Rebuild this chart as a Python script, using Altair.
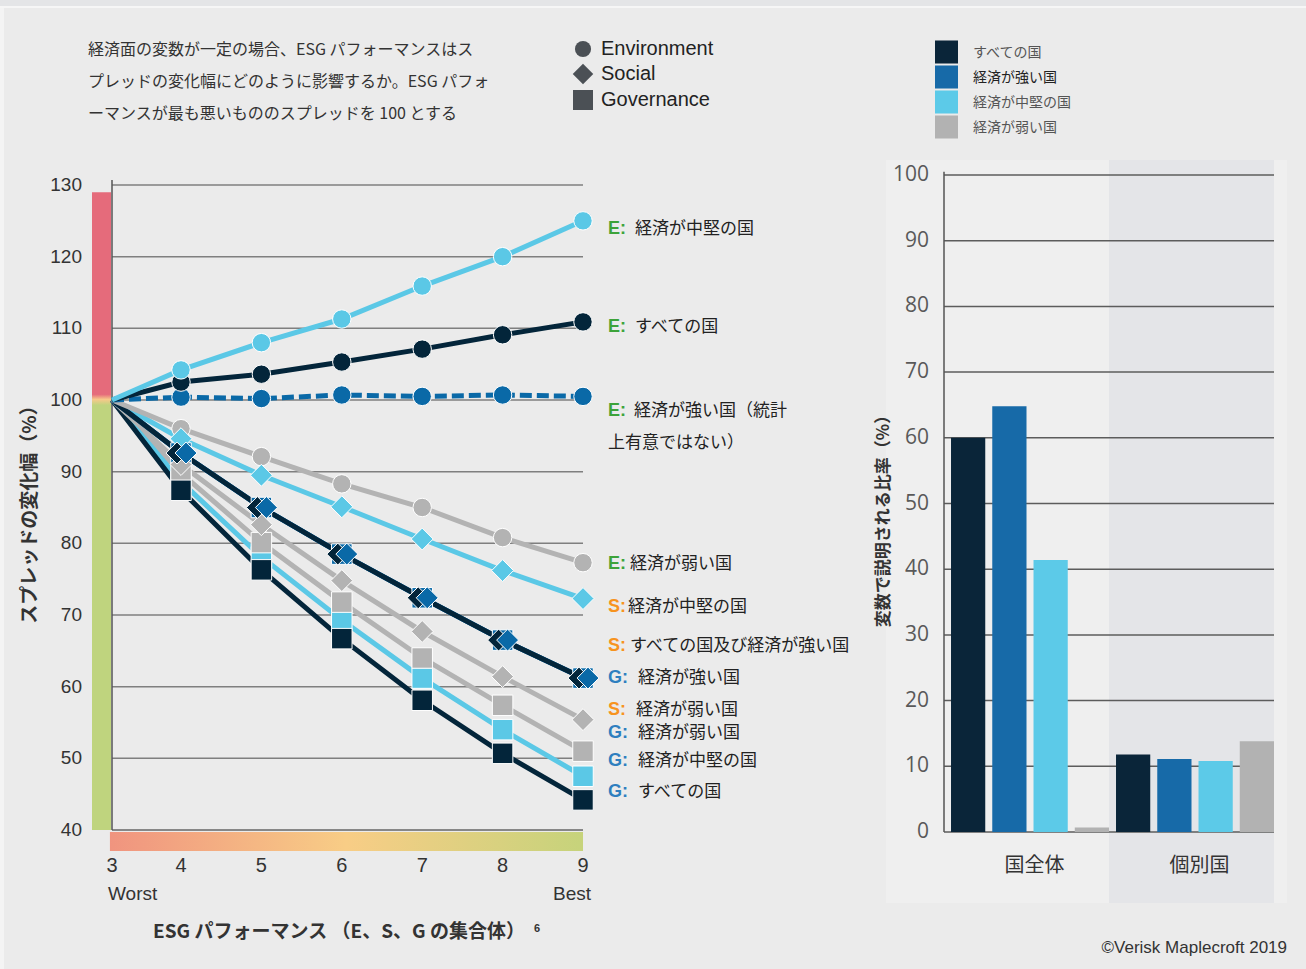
import altair as alt
import pandas as pd

# ---------------- data ----------------
esg_scores = [3, 4, 5, 6, 7, 8, 9]

# spread change (%) – spread of the worst ESG performer (score 3) = 100
env_mid    = [100, 104.2, 108.0, 111.3, 115.9, 120.0, 125.0]
env_all    = [100, 102.5, 103.6, 105.3, 107.1, 109.1, 110.9]
env_strong = [100, 100.4, 100.2, 100.7, 100.5, 100.7, 100.5]
env_weak   = [100, 96.0, 92.1, 88.3, 85.0, 80.8, 77.3]
soc_mid    = [100, 94.6, 89.5, 85.1, 80.6, 76.2, 72.3]
soc_all    = [100, 92.6, 85.0, 78.5, 72.4, 66.5, 61.2]
soc_strong = [100, 92.6, 85.0, 78.5, 72.4, 66.5, 61.2]
soc_weak   = [100, 91.0, 82.6, 74.8, 67.7, 61.4, 55.4]
gov_strong = [100, 92.6, 85.0, 78.5, 72.4, 66.5, 61.2]
gov_weak   = [100, 89.8, 80.1, 71.8, 64.0, 57.4, 51.0]
gov_mid    = [100, 88.6, 78.1, 69.3, 61.2, 54.0, 47.5]
gov_all    = [100, 87.4, 76.3, 66.7, 58.1, 50.7, 44.2]

left_y_ticks = [40, 50, 60, 70, 80, 90, 100, 110, 120, 130]

bar_groups = ["国全体", "個別国"]
bar_series = ["すべての国", "経済が強い国", "経済が中堅の国", "経済が弱い国"]
bar_whole = [60.0, 64.8, 41.4, 0.7]
bar_indiv = [11.8, 11.1, 10.8, 13.8]
right_y_ticks = [0, 10, 20, 30, 40, 50, 60, 70, 80, 90, 100]

header_lines = [
    "経済面の変数が一定の場合、ESG パフォーマンスはス",
    "プレッドの変化幅にどのように影響するか。ESG パフォ",
    "ーマンスが最も悪いもののスプレッドを 100 とする",
]
shape_legend = ["Environment", "Social", "Governance"]
label_prefix = ["E:", "E:", "E:", "", "E:", "S:", "S:", "G:", "S:", "G:", "G:", "G:"]
label_rest = ["経済が中堅の国", "すべての国", "経済が強い国（統計", "上有意ではない）",
              "経済が弱い国", "経済が中堅の国", "すべての国及び経済が強い国", "経済が強い国",
              "経済が弱い国", "経済が弱い国", "経済が中堅の国", "すべての国"]
left_y_title = "スプレッドの変化幅（%）"
left_x_title = "ESG パフォーマンス （E、S、G の集合体）"
right_y_title = "変数で説明される比率（%）"

# ---------------- styles / layout ----------------
CJK = "Noto Sans CJK JP"
LAT = "Liberation Sans"
NAVY, BLUE, LIGHT, GREY = "#03253a", "#0a69a7", "#5bc8e6", "#b3b3b3"
BAR_COLORS = ["#0a2539", "#176aa8", "#5ccae8", "#b2b2b2"]
PREFIX_COLOR = {"E:": "#3ca33a", "S:": "#f7931e", "G:": "#2e7fbf", "": "#222222"}
SYM_SIZE = {"circle": 340, "square": 420, "diamond": 480}

series_styles = {
    "gov_strong": (gov_strong, BLUE, "square", False, 0),
    "gov_all": (gov_all, NAVY, "square", False, 0),
    "gov_mid": (gov_mid, LIGHT, "square", False, 0),
    "gov_weak": (gov_weak, GREY, "square", False, 0),
    "soc_weak": (soc_weak, GREY, "diamond", False, 0),
    "soc_mid": (soc_mid, LIGHT, "diamond", False, 0),
    "soc_strong": (soc_strong, BLUE, "diamond", False, 5),
    "soc_all": (soc_all, NAVY, "diamond", False, -4),
    "env_weak": (env_weak, GREY, "circle", False, 0),
    "env_strong": (env_strong, BLUE, "circle", True, 0),
    "env_all": (env_all, NAVY, "circle", False, 0),
    "env_mid": (env_mid, LIGHT, "circle", False, 0),
}
line_order = ["gov_strong", "gov_weak", "gov_mid", "gov_all", "soc_weak", "soc_mid", "soc_strong",
              "soc_all", "env_weak", "env_strong", "env_all", "env_mid"]
marker_order = ["gov_strong", "gov_mid", "gov_weak", "gov_all", "env_strong", "env_all", "env_mid",
                "env_weak", "soc_weak", "soc_mid", "soc_all", "soc_strong"]

x_left = alt.Scale(domain=[3, 4, 9], range=[112, 181, 583], nice=False, zero=False)
y_left = alt.Scale(domain=[40, 130], range=[830, 185], nice=False, zero=False)
x_right = alt.Scale(domain=bar_groups, range=[944, 1274], paddingInner=0, paddingOuter=0)
y_right = alt.Scale(domain=[0, 100], range=[832, 175], nice=False, zero=False)


def text_layer(text, x, y, size, color="#333333", font=CJK, weight="normal", align="left", angle=0):
    kw = dict(align=align, baseline="middle", font=font, fontSize=size, fontWeight=weight, color=color)
    if angle:
        kw["angle"] = angle
    return alt.Chart(pd.DataFrame({"t": [text]})).mark_text(**kw).encode(
        text="t:N", x=alt.value(x), y=alt.value(y))


def rect_value(x, x2, y, y2, color):
    return alt.Chart(pd.DataFrame({"a": [0]})).mark_rect(color=color).encode(
        x=alt.value(x), x2=alt.value(x2), y=alt.value(y), y2=alt.value(y2))


# ---------------- left panel ----------------
left_layers = []
vgrad = alt.LinearGradient(gradient="linear", x1=0, x2=0, y1=0, y2=1, stops=[
    alt.GradientStop(offset=0, color="#e56b7b"), alt.GradientStop(offset=0.317, color="#e56b7b"),
    alt.GradientStop(offset=0.325, color="#f7c98a"), alt.GradientStop(offset=0.334, color="#bfd47e"),
    alt.GradientStop(offset=1, color="#bfd47e")])
hgrad = alt.LinearGradient(gradient="linear", x1=0, x2=1, y1=0, y2=0, stops=[
    alt.GradientStop(offset=0, color="#f0947f"), alt.GradientStop(offset=0.5, color="#f8cd86"),
    alt.GradientStop(offset=1, color="#c6d37b")])

left_layers.append(
    alt.Chart(pd.DataFrame({"top": [129.0], "bot": [40.0]})).mark_rect(fill=vgrad).encode(
        x=alt.value(92), x2=alt.value(111),
        y=alt.Y("top:Q", scale=y_left, axis=None), y2="bot:Q"))
left_layers.append(
    alt.Chart(pd.DataFrame({"a": [0]})).mark_rect(fill=hgrad).encode(
        x=alt.XDatum(2.97, scale=x_left, axis=None), x2=alt.X2Datum(9),
        y=alt.value(832), y2=alt.value(851)))
# grid lines
left_layers.append(
    alt.Chart(pd.DataFrame({"g": left_y_ticks[1:]})).mark_rule(color="#7f7f7f", strokeWidth=1.5).encode(
        y=alt.Y("g:Q", scale=y_left, axis=None),
        x=alt.XDatum(3, scale=x_left, axis=None), x2=alt.X2Datum(9)))
# axis lines
left_layers.append(
    alt.Chart(pd.DataFrame({"g": [40]})).mark_rule(color="#666666", strokeWidth=1.5).encode(
        y=alt.Y("g:Q", scale=y_left, axis=None),
        x=alt.XDatum(3, scale=x_left, axis=None), x2=alt.X2Datum(9)))
left_layers.append(
    alt.Chart(pd.DataFrame({"a": [0]})).mark_rule(color="#555555", strokeWidth=1.5).encode(
        x=alt.XDatum(3, scale=x_left, axis=None),
        y=alt.YDatum(40, scale=y_left, axis=None), y2=alt.Y2Datum(130.7)))
# tick labels
left_layers.append(
    alt.Chart(pd.DataFrame({"v": left_y_ticks})).mark_text(
        align="right", baseline="middle", font=LAT, fontSize=19, color="#333333").encode(
        y=alt.Y("v:Q", scale=y_left, axis=None), x=alt.value(82), text=alt.Text("v:Q", format="d")))
left_layers.append(
    alt.Chart(pd.DataFrame({"s": esg_scores})).mark_text(
        align="center", baseline="middle", font=LAT, fontSize=20, color="#333333").encode(
        x=alt.X("s:Q", scale=x_left, axis=None), y=alt.value(866), text=alt.Text("s:Q", format="d")))

for key in line_order:
    vals, col, shape, dashed, xo = series_styles[key]
    df = pd.DataFrame({"esg": esg_scores, "val": vals})
    kw = dict(color=col, strokeWidth=5, strokeCap="butt")
    if dashed:
        kw["strokeDash"] = [12, 5]
    left_layers.append(
        alt.Chart(df).mark_line(**kw).encode(
            x=alt.X("esg:Q", scale=x_left, axis=None),
            y=alt.Y("val:Q", scale=y_left, axis=None)))

for key in marker_order:
    vals, col, shape, dashed, xo = series_styles[key]
    df = pd.DataFrame({"esg": esg_scores[1:], "val": vals[1:]})
    kw = dict(shape=shape, filled=True, fill=col, stroke="#ffffff", strokeWidth=1, opacity=1,
              size=SYM_SIZE[shape])
    if xo:
        kw["xOffset"] = xo
    left_layers.append(
        alt.Chart(df).mark_point(**kw).encode(
            x=alt.X("esg:Q", scale=x_left, axis=None),
            y=alt.Y("val:Q", scale=y_left, axis=None)))

left = alt.layer(*left_layers)

# ---------------- right panel ----------------
bars_df = pd.DataFrame({
    "group": [bar_groups[0]] * 4 + [bar_groups[1]] * 4,
    "series": bar_series * 2,
    "value": bar_whole + bar_indiv,
})
right_layers = [
    alt.Chart(pd.DataFrame({"group": [bar_groups[1]]})).mark_rect(color="#e4e5e8").encode(
        x=alt.X("group:N", scale=x_right, axis=None), y=alt.value(160), y2=alt.value(903)),
    alt.Chart(pd.DataFrame({"g": right_y_ticks})).mark_rule(color="#5c5c5c", strokeWidth=1.5).encode(
        y=alt.Y("g:Q", scale=y_right, axis=None), x=alt.value(944), x2=alt.value(1274)),
    alt.Chart(bars_df).mark_bar().encode(
        x=alt.X("group:N", scale=x_right, sort=bar_groups, axis=None),
        xOffset=alt.XOffset("series:N", sort=bar_series,
                            scale=alt.Scale(domain=bar_series, paddingInner=0.17, paddingOuter=0.085, align=1)),
        y=alt.Y("value:Q", scale=y_right, axis=None),
        color=alt.Color("series:N", scale=alt.Scale(domain=bar_series, range=BAR_COLORS), legend=None)),
    # y axis line
    alt.Chart(pd.DataFrame({"a": [0]})).mark_rule(color="#555555", strokeWidth=1.5).encode(
        x=alt.value(944), y=alt.YDatum(0, scale=y_right, axis=None), y2=alt.Y2Datum(100.5)),
    # tick labels
    alt.Chart(pd.DataFrame({"v": right_y_ticks})).mark_text(
        align="right", baseline="middle", font="Open Sans", fontSize=21, color="#595959").encode(
        y=alt.Y("v:Q", scale=y_right, axis=None), x=alt.value(929), text=alt.Text("v:Q", format="d")),
    alt.Chart(pd.DataFrame({"group": bar_groups})).mark_text(
        align="center", baseline="middle", font=CJK, fontSize=20, color="#333333", dx=8).encode(
        x=alt.X("group:N", scale=x_right, axis=None), y=alt.value(866), text="group:N"),
]
right = alt.layer(*right_layers)

# ---------------- decorations, legends, texts ----------------
layers = [
    rect_value(0, 1306, 0, 6, "#e4e5e7"),
    rect_value(0, 1306, 6, 8, "#f6f6f6"),
    rect_value(0, 4, 8, 969, "#f4f4f4"),
    rect_value(886, 1287, 160, 903, "#efefef"),
    left,
    right,
]

for i, line in enumerate(header_lines):
    layers.append(text_layer(line, 88, [50, 82, 114][i], 16, color="#333333"))

for i, (shape, lab) in enumerate(zip(["circle", "diamond", "square"], shape_legend)):
    yy = [49, 74, 100][i]
    size = {"circle": 260, "diamond": 420, "square": 400}[shape]
    layers.append(alt.Chart(pd.DataFrame({"a": [0]})).mark_point(
        shape=shape, filled=True, fill="#4b5055", opacity=1, size=size).encode(
        x=alt.value(583), y=alt.value(yy)))
    layers.append(text_layer(lab, 601, yy, 20, color="#222222", font=LAT))

for i, (name, col) in enumerate(zip(bar_series, BAR_COLORS)):
    yy = [52, 77, 102, 127][i]
    layers.append(alt.Chart(pd.DataFrame({"a": [0]})).mark_square(
        color=col, opacity=1, size=530).encode(x=alt.value(946.5), y=alt.value(yy)))
    layers.append(text_layer(name, 973, yy + 1, 14, color="#222222" if i == 1 else "#555555"))

label_y = [229, 327, 411, 443, 564, 607, 646, 678, 710, 733, 761, 792]
rest_x = [635, 635, 634, 608, 630, 628, 630, 638, 636, 638, 638, 638]
for pre, rest, yy, rx in zip(label_prefix, label_rest, label_y, rest_x):
    if pre:
        layers.append(text_layer(pre, 608, yy, 18, color=PREFIX_COLOR[pre], font=LAT, weight="bold"))
    layers.append(text_layer(rest, rx, yy, 17, color="#222222"))

layers.append(text_layer(left_y_title, 30, 510, 19, weight="bold", align="center", angle=270))
layers.append(text_layer(right_y_title, 884, 517, 17, weight="bold", align="center", angle=270))
layers.append(text_layer(left_x_title, 339, 932, 19, weight="bold", align="center"))
layers.append(text_layer("Worst", 108, 894, 19, font=LAT))
layers.append(text_layer("Best", 591, 894, 19, font=LAT, align="right"))
layers.append(text_layer("6", 534, 929, 11, font=LAT, weight="bold"))
layers.append(text_layer("©Verisk Maplecroft 2019", 1287, 948, 17, font=LAT, align="right"))

chart = alt.layer(*layers).resolve_scale(
    x="independent", y="independent", color="independent"
).properties(
    width=1306, height=969, padding=0,
    autosize=alt.AutoSizeParams(type="none"),
    background="#ebebeb",
).configure_view(strokeWidth=0)

chart.save("out.html", embed_options={"renderer": "svg", "actions": False})
